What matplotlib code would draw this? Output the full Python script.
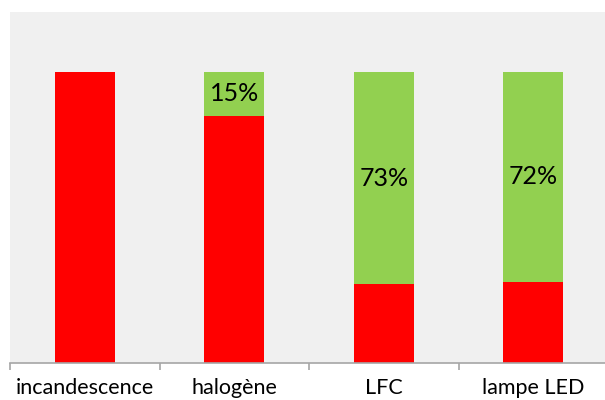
import matplotlib.pyplot as plt

categories = ['incandescence', 'halogène', 'LFC', 'lampe LED']
red_part = [1.00, 0.85, 0.27, 0.28]
green_part = [0.00, 0.15, 0.73, 0.72]
green_labels = ['', '15%', '73%', '72%']

plt.rcParams['font.family'] = ['Lato', 'DejaVu Sans']

fig = plt.figure(figsize=(6.05, 4.0), dpi=100)
ax = fig.add_axes([10 / 605, 37 / 400, 598 / 605, 351 / 400])
ax.set_facecolor('#f0f0f0')

x = list(range(len(categories)))
ax.bar(x, red_part, width=0.4, color='#ff0000')
ax.bar(x, green_part, width=0.4, bottom=red_part, color='#92d050')

for xi, r, g, lab in zip(x, red_part, green_part, green_labels):
    if lab:
        ax.text(xi, r + g / 2, lab, ha='center', va='center', fontsize=18, color='black')

ax.set_xlim(-0.5, 3.5)
ax.set_ylim(0, 1.206)

for s in ['top', 'right', 'left']:
    ax.spines[s].set_visible(False)
ax.spines['bottom'].set_color('#a6a6a6')
ax.spines['bottom'].set_linewidth(1.2)

ax.set_yticks([])
ax.set_xticks([-0.5, 0.5, 1.5, 2.5, 3.5])
ax.set_xticklabels([])
ax.tick_params(axis='x', which='major', length=5, color='#a6a6a6', width=1.2)
ax.set_xticks(x, minor=True)
ax.set_xticklabels(categories, minor=True, fontsize=15.5)
ax.tick_params(axis='x', which='minor', length=0, pad=11)

fig.savefig('out.png', dpi=100)
